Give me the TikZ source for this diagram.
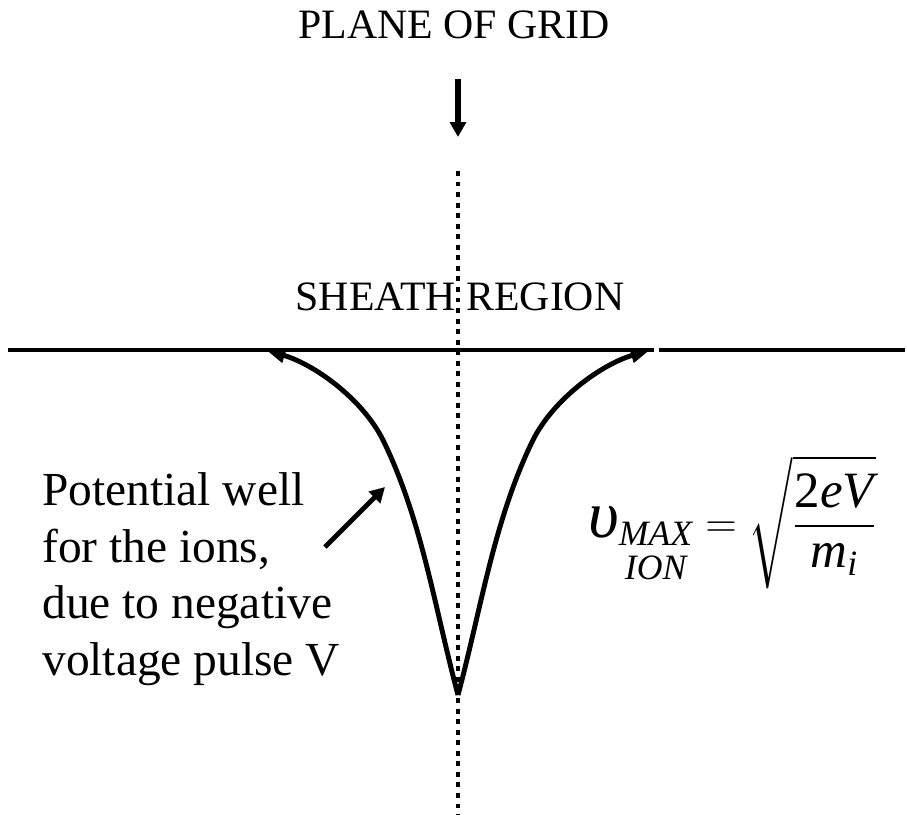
\documentclass[tikz,border=0pt]{standalone}
\usepackage{fontspec}
\setmainfont{Liberation Serif}
\usepackage{amsmath}
\usetikzlibrary{arrows.meta}
\tikzset{
    sheathtitle/.style={font=\fontsize{23.8}{28}\selectfont, inner sep=0pt, anchor=base},
    sheathnote/.style={font=\fontsize{27}{32.3}\selectfont, align=left, inner sep=0pt, anchor=north west},
    sheathformula/.style={font=\fontsize{29}{34}\selectfont, inner sep=0pt, anchor=west},
    sheatharrow/.style={-{Triangle[length=8.5pt, width=9pt]}, line width=3pt},
    sheathline/.style={line width=2.5pt},
    sheathwell/.style={-{Triangle[length=11pt, width=8pt]}, line width=2.8pt},
    sheathgrid/.style={line width=2.8pt, dash pattern=on 2.8pt off 3.2pt}
}

\begin{document}
\begin{tikzpicture}[x=0.02cm, y=-0.02cm]
    \useasboundingbox (0,0) rectangle (907,815);

    \node[sheathtitle] (plane) at (454,38) {PLANE OF GRID};
    \node[sheathtitle] (sheath) at (460,310) {SHEATH REGION};
    \node[sheathnote] (well) at (42,472) {Potential well\\for the ions,\\due to negative\\voltage pulse V};
    \node[sheathformula] (vmax) at (588,522) {$\text{\fontsize{38}{38}\selectfont\itshape υ}_{\substack{\textit{MAX}\\\rule{0pt}{17pt}\textit{ION}}} = \sqrt{\dfrac{\textup{2}\textit{eV}}{\textit{m}_{\textit{i}}}}$};

    \coordinate (gridarrow) at (458,79);
    \coordinate (gridhit) at (458,137);
    \coordinate (gridtop) at (458,171);
    \coordinate (gridbottom) at (458,815);
    \coordinate (cusp) at (458,695);
    \coordinate (wellleft) at (266,350);
    \coordinate (wellright) at (650,350);
    \coordinate (pointer) at (325,547);
    \coordinate (wallhit) at (385,487);

    % plane of the grid
    \draw[sheatharrow] (gridarrow) -- (gridhit);
    \draw[sheathgrid] (gridtop) -- (gridbottom);

    % sheath edge
    \draw[sheathline] (8,350) -- (654,350);
    \draw[sheathline] (659,350) -- (905,350);

    % potential well
    \draw[sheathwell] (cusp) .. controls (434,605) and (422,520) .. (383,440)
        .. controls (363,400) and (316,365) .. (wellleft);
    \draw[sheathwell] (cusp) .. controls (482,605) and (494,520) .. (533,440)
        .. controls (553,400) and (600,365) .. (wellright);

    \draw[sheatharrow, line width=2.8pt] (pointer) -- (wallhit);
\end{tikzpicture}
\end{document}
